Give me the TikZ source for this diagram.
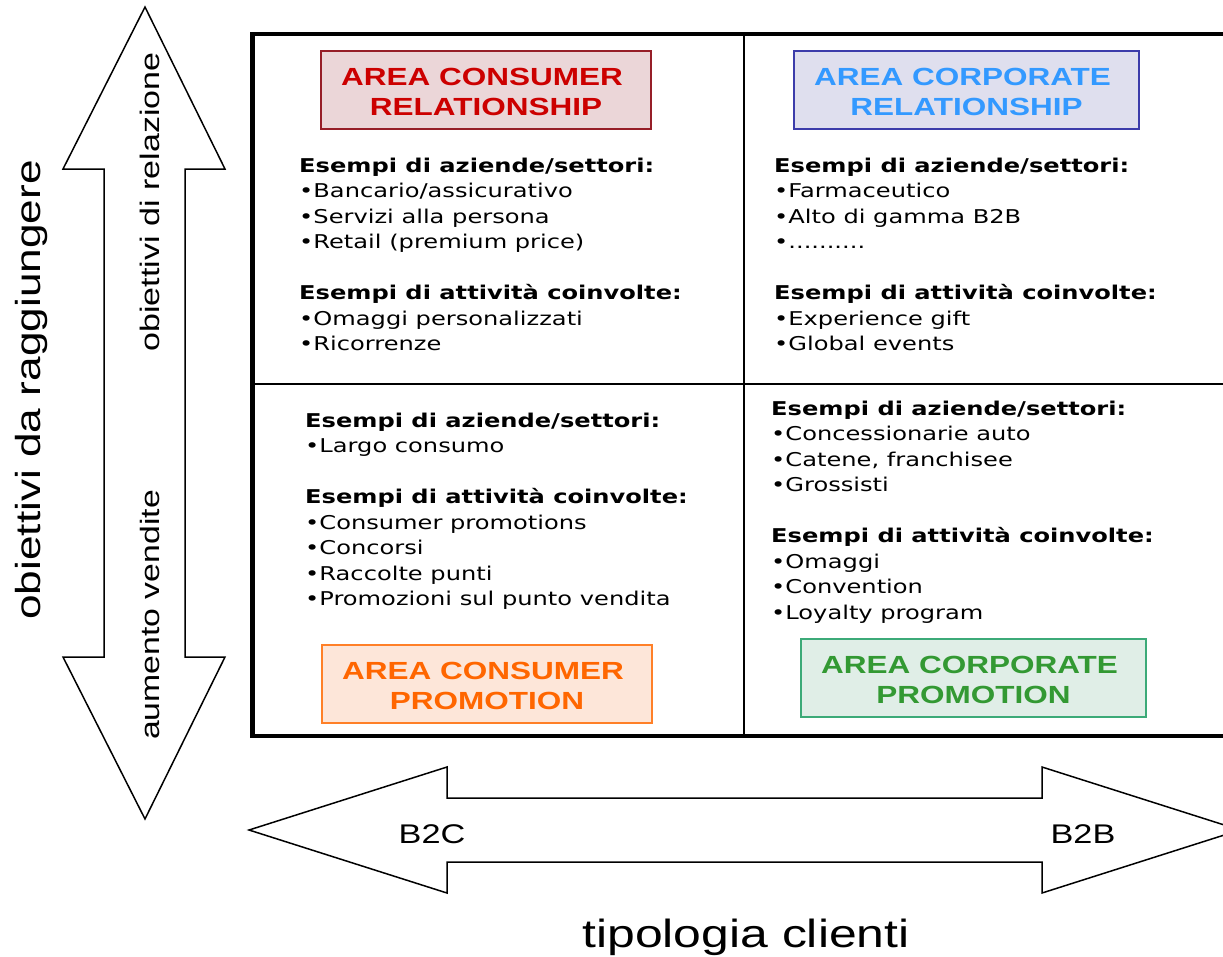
\documentclass[tikz,border=0pt]{standalone}
\usepackage{fontspec}
\newfontfamily\bodyfont[FakeStretch=1.27]{DejaVu Sans}
\newfontfamily\arialfont[FakeStretch=1.27]{Liberation Sans}

\definecolor{crText}{RGB}{204,0,0}
\definecolor{crFill}{RGB}{235,214,216}
\definecolor{crLine}{RGB}{150,30,40}
\definecolor{cpText}{RGB}{51,153,255}
\definecolor{cpFill}{RGB}{223,223,238}
\definecolor{cpLine}{RGB}{60,60,170}
\definecolor{pmText}{RGB}{255,102,0}
\definecolor{pmFill}{RGB}{253,230,217}
\definecolor{pmLine}{RGB}{255,128,40}
\definecolor{gpText}{RGB}{51,153,51}
\definecolor{gpFill}{RGB}{224,238,231}
\definecolor{gpLine}{RGB}{60,170,120}

% invisible rule that lowers the two title lines a little inside their box
\newcommand\titletop{\rule{0pt}{21.6pt}}

\begin{document}
\begin{tikzpicture}[x=1pt,y=-1pt,
  hollowarrow/.style={draw=black, fill=white, line width=1.5pt, line join=miter},
  titlebox/.style={draw, line width=1.3pt, inner sep=0pt, minimum width=#1, minimum height=78pt,
    align=center, font=\arialfont\bfseries\fontsize{24.8}{30.5}\selectfont},
  bodytext/.style={anchor=base west, inner sep=0pt, font=\bodyfont\fontsize{19}{25.5}\selectfont},
  axislabel/.style={inner sep=0pt, font=\arialfont\fontsize{#1}{#1}\selectfont},
  grid/.style={draw=black, line width=1.8pt}]

\useasboundingbox (0,0) rectangle (1223,956);
\clip (0,0) rectangle (1223,956);
\fill[white] (0,0) rectangle (1223,956);

% vertical double arrow: objectives
\draw[hollowarrow] (145,7) -- (225,169) -- (185,169) -- (185,657) -- (225,657) -- (145,819)
  -- (63,657) -- (104,657) -- (104,169) -- (63,169) -- cycle;
\node[axislabel=26.8, rotate=90] (relazione) at (150,202) {obiettivi di relazione};
\node[axislabel=26.6, rotate=90] (vendite) at (150,615) {aumento vendite};
\node[axislabel=34.8, rotate=90] (obiettivi) at (32,390) {obiettivi da raggiungere};

% horizontal double arrow: customer type
\draw[hollowarrow] (249,830) -- (447,767) -- (447,798) -- (1042,798) -- (1042,767) -- (1240,830)
  -- (1042,893) -- (1042,862) -- (447,862) -- (447,893) -- cycle;
\node[axislabel=27] (btoc) at (432,834) {B2C};
\node[axislabel=27] (btob) at (1083,834) {B2B};
\node[axislabel=39.3] (tipologia) at (746,937) {tipologia clienti};

% the four-quadrant matrix
\draw[grid] (744,34) -- (744,736);
\draw[grid] (252.5,384) -- (1240,384);
\draw[black, line width=4.5pt] (252.5,34) rectangle (1240,736);

% quadrant titles
\node[titlebox=330pt, draw=crLine, fill=crFill, text=crText] (consRel) at (486,90)
  {\titletop AREA CONSUMER\kern8pt\\RELATIONSHIP};
\node[titlebox=345pt, draw=cpLine, fill=cpFill, text=cpText] (corpRel) at (966.5,90)
  {\titletop AREA CORPORATE\kern8pt\\RELATIONSHIP};
\node[titlebox=330pt, draw=pmLine, fill=pmFill, text=pmText] (consPromo) at (487,684)
  {\titletop AREA CONSUMER\kern8pt\\PROMOTION};
\node[titlebox=345pt, draw=gpLine, fill=gpFill, text=gpText] (corpPromo) at (973.5,678)
  {\titletop AREA CORPORATE\kern8pt\\PROMOTION};

% quadrant contents
\node[bodytext] (consRelText) at (299,172) {\begin{tabular}[t]{@{}l@{}}
  \textbf{Esempi di aziende/settori:}\\
  •Bancario/assicurativo\\
  •Servizi alla persona\\
  •Retail (premium price)\\
  \\
  \textbf{Esempi di attività coinvolte:}\\
  •Omaggi personalizzati\\
  •Ricorrenze
\end{tabular}};

\node[bodytext] (corpRelText) at (774,172) {\begin{tabular}[t]{@{}l@{}}
  \textbf{Esempi di aziende/settori:}\\
  •Farmaceutico\\
  •Alto di gamma B2B\\
  •..........\\
  \\
  \textbf{Esempi di attività coinvolte:}\\
  •Experience gift\\
  •Global events
\end{tabular}};

\node[bodytext] (consPromoText) at (305,427) {\begin{tabular}[t]{@{}l@{}}
  \textbf{Esempi di aziende/settori:}\\
  •Largo consumo\\
  \\
  \textbf{Esempi di attività coinvolte:}\\
  •Consumer promotions\\
  •Concorsi\\
  •Raccolte punti\\
  •Promozioni sul punto vendita
\end{tabular}};

\node[bodytext] (corpPromoText) at (771,415) {\begin{tabular}[t]{@{}l@{}}
  \textbf{Esempi di aziende/settori:}\\
  •Concessionarie auto\\
  •Catene, franchisee\\
  •Grossisti\\
  \\
  \textbf{Esempi di attività coinvolte:}\\
  •Omaggi\\
  •Convention\\
  •Loyalty program
\end{tabular}};

\end{tikzpicture}
\end{document}
